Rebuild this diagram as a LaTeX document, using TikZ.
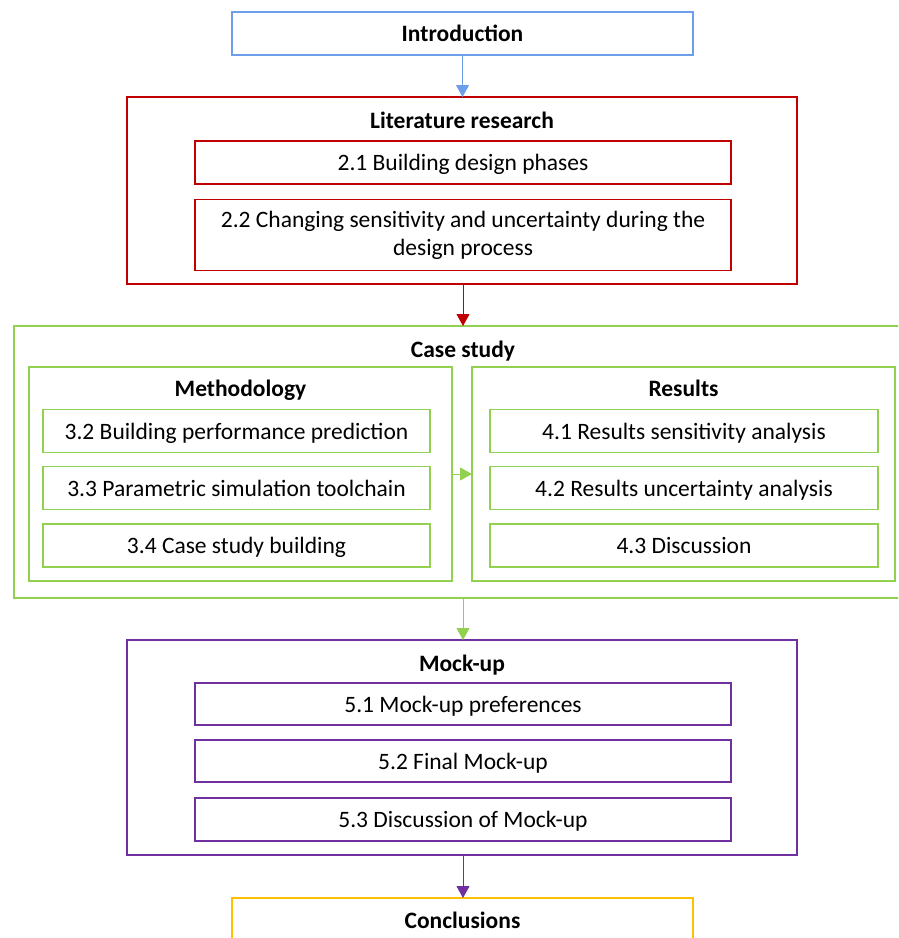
\documentclass[tikz,border=0pt]{standalone}
\usepackage{fontspec}
\setmainfont{Carlito}
\usetikzlibrary{arrows.meta}
\definecolor{cblue}{HTML}{6D9EEB}
\definecolor{cred}{HTML}{C00000}
\definecolor{cgreen}{HTML}{92D050}
\definecolor{cpurple}{HTML}{7030A0}
\definecolor{cyellow}{HTML}{FFC000}
\tikzset{
  frame/.style={draw=#1, line width=1.5pt, inner sep=0pt, outer sep=0pt, fill=white},
  item/.style={draw=#1, line width=1.5pt, inner sep=0pt, outer sep=0pt,
    minimum height=43pt, align=center, font=\fontsize{23.5}{28}\selectfont},
  oneline/.style={text height=21pt, text depth=5pt},
  heading/.style={font=\fontsize{23.5}{26}\selectfont\bfseries, inner sep=0pt,
    text height=21pt, text depth=5pt},
  flow/.style={draw=#1, line width=1pt, -{Triangle[width=13pt,length=12pt]}},
}
\begin{document}
\begin{tikzpicture}[x=1pt,y=-1pt]
\useasboundingbox (0,0) rectangle (898,938);
\clip (0,0) rectangle (898,938);

% Introduction
\node[frame=cblue, minimum width=461pt, minimum height=43pt, heading] (intro) at (462.5,33.5) {Introduction};

% Literature research
\node[frame=cred, minimum width=670pt, minimum height=187pt] (lit) at (462,190.5) {};
\node[heading] (littitle) at (462,120) {Literature research};
\node[item=cred, oneline, minimum width=536pt] (s21) at (463,162.5) {2.1 Building design phases};
\node[item=cred, minimum width=536pt, minimum height=71pt] (s22) at (463,235) {2.2 Changing sensitivity and uncertainty during the\\design process};

% Case study
\node[frame=cgreen, minimum width=906pt, minimum height=272pt] (case) at (467,462) {};
\node[heading] (casetitle) at (463,349) {Case study};

\node[frame=cgreen, minimum width=423pt, minimum height=214pt] (meth) at (240.5,474) {};
\node[heading] (methtitle) at (240.5,388) {Methodology};
\node[item=cgreen, oneline, minimum width=387pt] (s32) at (236.5,431) {3.2 Building performance prediction};
\node[item=cgreen, oneline, minimum width=387pt] (s33) at (236.5,488) {3.3 Parametric simulation toolchain};
\node[item=cgreen, oneline, minimum width=387pt] (s34) at (236.5,545.5) {3.4 Case study building};

\node[frame=cgreen, minimum width=423pt, minimum height=214pt] (res) at (683.5,474) {};
\node[heading] (restitle) at (683.5,388) {Results};
\node[item=cgreen, oneline, minimum width=388pt] (s41) at (684,431) {4.1 Results sensitivity analysis};
\node[item=cgreen, oneline, minimum width=388pt] (s42) at (684,488) {4.2 Results uncertainty analysis};
\node[item=cgreen, oneline, minimum width=388pt] (s43) at (684,545.5) {4.3 Discussion};

% Mock-up
\node[frame=cpurple, minimum width=670pt, minimum height=215pt] (mock) at (462,747.5) {};
\node[heading] (mocktitle) at (462,663) {Mock-up};
\node[item=cpurple, oneline, minimum width=536pt, minimum height=42pt] (s51) at (463,704) {5.1 Mock-up preferences};
\node[item=cpurple, oneline, minimum width=536pt, minimum height=42pt] (s52) at (463,761) {5.2 Final Mock-up};
\node[item=cpurple, oneline, minimum width=536pt] (s53) at (463,819.5) {5.3 Discussion of Mock-up};

% Conclusions
\node[frame=cyellow, minimum width=461pt, minimum height=80pt] (concl) at (462.5,938) {};
\node[heading] (concltitle) at (462.5,920) {Conclusions};

% Connectors
\draw[flow=cblue] (intro.south) -- (intro.south |- lit.north);
\draw[flow=cred] (lit.south -| s21.south) -- (s21.south |- case.north);
\draw[flow=cgreen] (meth.east) -- (res.west);
\draw[flow=cgreen] (case.south -| s21.south) -- (s21.south |- mock.north);
\draw[flow=cpurple] (mock.south -| s21.south) -- (s21.south |- concl.north);
\end{tikzpicture}
\end{document}
